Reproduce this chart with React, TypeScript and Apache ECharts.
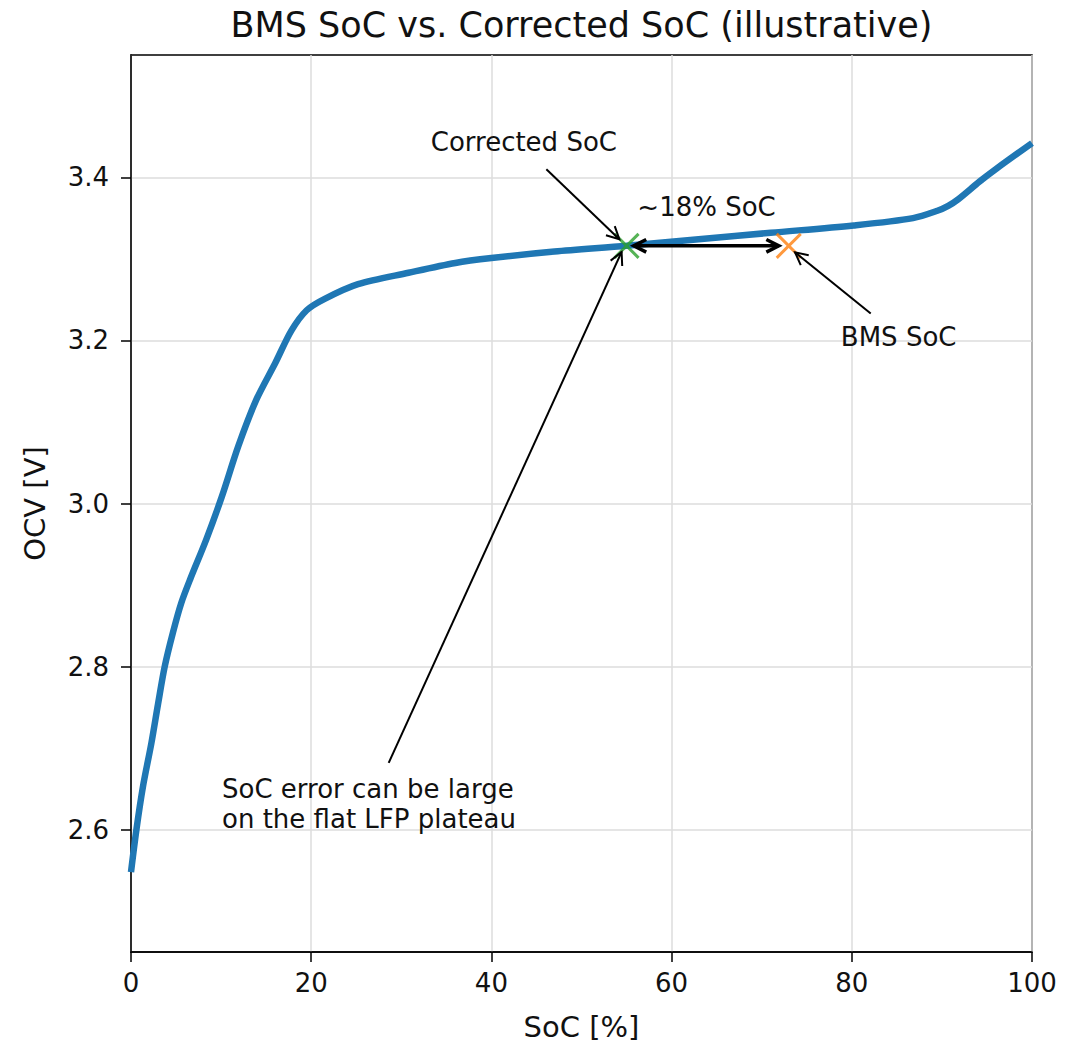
import React, { useEffect, useRef } from "react";
import * as echarts from "echarts";

// ---- data ----
const socPoints = [0, 0.6, 1.33, 2.26, 3.0, 3.74, 4.66, 5.58, 6.6, 8.36, 10.1, 11.9, 13.9, 16.0, 17.8, 19.5, 21.5, 25.2, 30.8, 36.0, 40, 47, 55, 63, 71, 80.2, 86.8, 89.5, 90.7, 91.8, 94.2, 96.1, 100];
const ocvPoints = [2.548, 2.6, 2.653, 2.706, 2.754, 2.8, 2.842, 2.878, 2.908, 2.956, 3.009, 3.07, 3.127, 3.172, 3.212, 3.237, 3.251, 3.269, 3.283, 3.295, 3.301, 3.309, 3.316, 3.324, 3.332, 3.341, 3.35, 3.359, 3.365, 3.373, 3.395, 3.411, 3.442];

const correctedPoint = [55, 3.316];
const bmsPoint = [73, 3.316];

const xTickStep = 20;
const yTicks = [2.6, 2.8, 3.0, 3.2, 3.4];

// annotation arrows (data coordinates): tail -> head
const arrowTails = [[46.1, 3.41], [82.1, 3.233], [28.6, 2.682], [55.8, 3.316]];
const arrowHeads = [[54.2, 3.324], [73.7, 3.308], [54.45, 3.3085], [71.9, 3.316]];
const arrowDoubleHeaded = [false, false, false, true];

// annotation texts (data coordinates)
const noteTexts = ["Corrected SoC", "BMS SoC", "~18% SoC", "SoC error can be large\non the flat LFP plateau"];
const notePositions = [[43.6, 3.443], [85.2, 3.204], [56.2, 3.363], [10.1, 2.631]];
const noteAligns = ["center", "center", "left", "left"];

const FONT = "DejaVu Sans";
const INK = "#111";

export default function App() {
  const ref = useRef<HTMLDivElement>(null);

  useEffect(() => {
    if (!ref.current) return;
    const chart = echarts.init(ref.current, undefined, { renderer: "svg" });

    const xMark = "path://M0,0L10,10M10,0L0,10";

    const arrowData = arrowTails.map((t, i) => [t[0], t[1], arrowHeads[i][0], arrowHeads[i][1], arrowDoubleHeaded[i] ? 1 : 0]);
    const textData = notePositions.map((p, i) => [p[0], p[1], i]);

    const headPts = (tip: number[], from: number[], len: number) => {
      const dx = from[0] - tip[0];
      const dy = from[1] - tip[1];
      const d = Math.sqrt(dx * dx + dy * dy) || 1;
      const ux = dx / d;
      const uy = dy / d;
      const a = (27 * Math.PI) / 180;
      const c = Math.cos(a);
      const s = Math.sin(a);
      const l = [tip[0] + len * (ux * c - uy * s), tip[1] + len * (ux * s + uy * c)];
      const r = [tip[0] + len * (ux * c + uy * s), tip[1] + len * (-ux * s + uy * c)];
      return [l, tip, r];
    };

    const option: any = {
      animation: false,
      backgroundColor: "#ffffff",
      title: {
        text: "BMS SoC vs. Corrected SoC (illustrative)",
        left: 581.5,
        top: 7,
        textAlign: "center",
        padding: 0,
        textStyle: { fontFamily: FONT, fontSize: 35, fontWeight: "normal", color: INK },
      },
      grid: {
        left: 131,
        right: 49,
        top: 55,
        bottom: 93,
        show: true,
        borderColor: "#000",
        borderWidth: 1.5,
        backgroundColor: "transparent",
      },
      xAxis: {
        type: "value",
        min: 0,
        max: 100,
        interval: xTickStep,
        name: "SoC [%]",
        nameLocation: "middle",
        nameGap: 60,
        nameTextStyle: { fontFamily: FONT, fontSize: 29, color: INK },
        axisLine: { show: true, onZero: false, lineStyle: { color: "#000", width: 1.5 } },
        axisTick: { show: true, inside: false, length: 10, lineStyle: { color: "#000", width: 1.5 } },
        axisLabel: { fontFamily: FONT, fontSize: 26, color: INK, margin: 18 },
        splitLine: { show: true, lineStyle: { color: "#dcdcdc", width: 1.5 } },
      },
      yAxis: {
        type: "value",
        min: 2.45,
        max: 3.55,
        name: "OCV [V]",
        nameLocation: "middle",
        nameGap: 82,
        nameTextStyle: { fontFamily: FONT, fontSize: 29, color: INK },
        axisLine: { show: true, onZero: false, lineStyle: { color: "#000", width: 1.5 } },
        axisTick: { show: true, inside: false, length: 10, customValues: yTicks, lineStyle: { color: "#000", width: 1.5 } },
        axisLabel: {
          customValues: yTicks,
          fontFamily: FONT,
          fontSize: 26,
          color: INK,
          margin: 22,
          formatter: (v: number) => v.toFixed(1),
        },
        splitLine: { show: true, lineStyle: { color: "#dcdcdc", width: 1.5 } },
      },
      series: [
        {
          type: "line",
          data: socPoints.map((s, i) => [s, ocvPoints[i]]),
          showSymbol: false,
          smooth: 0.3,
          lineStyle: { color: "#1f77b4", width: 6.5 },
          z: 2,
          silent: true,
        },
        {
          type: "scatter",
          data: [correctedPoint],
          symbol: xMark,
          symbolSize: 24,
          itemStyle: { color: "rgba(0,0,0,0)", borderColor: "#2ca02c", borderWidth: 3 },
          z: 3,
          silent: true,
        },
        {
          type: "scatter",
          data: [bmsPoint],
          symbol: xMark,
          symbolSize: 24,
          itemStyle: { color: "rgba(0,0,0,0)", borderColor: "#ff7f0e", borderWidth: 3 },
          z: 3,
          silent: true,
        },
        {
          type: "custom",
          data: arrowData,
          encode: { x: [0, 2], y: [1, 3] },
          clip: false,
          silent: true,
          z: 4,
          renderItem: (params: any, api: any) => {
            const p1 = api.coord([api.value(0), api.value(1)]);
            const p2 = api.coord([api.value(2), api.value(3)]);
            const dbl = api.value(4) === 1;
            const lw = dbl ? 3.5 : 2;
            const len = 14;
            const children: any[] = [
              { type: "line", shape: { x1: p1[0], y1: p1[1], x2: p2[0], y2: p2[1] }, style: { stroke: "#000", lineWidth: lw } },
              { type: "polyline", shape: { points: headPts(p2, p1, len) }, style: { stroke: "#000", fill: null, lineWidth: lw } },
            ];
            if (dbl) {
              children.push({ type: "polyline", shape: { points: headPts(p1, p2, len) }, style: { stroke: "#000", fill: null, lineWidth: lw } });
            }
            return { type: "group", children };
          },
        },
        {
          type: "custom",
          data: textData,
          encode: { x: 0, y: 1 },
          clip: false,
          silent: true,
          z: 5,
          renderItem: (params: any, api: any) => {
            const p = api.coord([api.value(0), api.value(1)]);
            const idx = api.value(2);
            return {
              type: "text",
              x: p[0],
              y: p[1],
              style: {
                text: noteTexts[idx],
                fontFamily: FONT,
                fontSize: 26,
                lineHeight: 30,
                fill: INK,
                align: noteAligns[idx],
                verticalAlign: "middle",
              },
            };
          },
        },
      ],
    };

    chart.setOption(option);
    return () => chart.dispose();
  }, []);

  return <div ref={ref} style={{ position: "absolute", left: 0, top: 0, width: 1081, height: 1046 }} />;
}
